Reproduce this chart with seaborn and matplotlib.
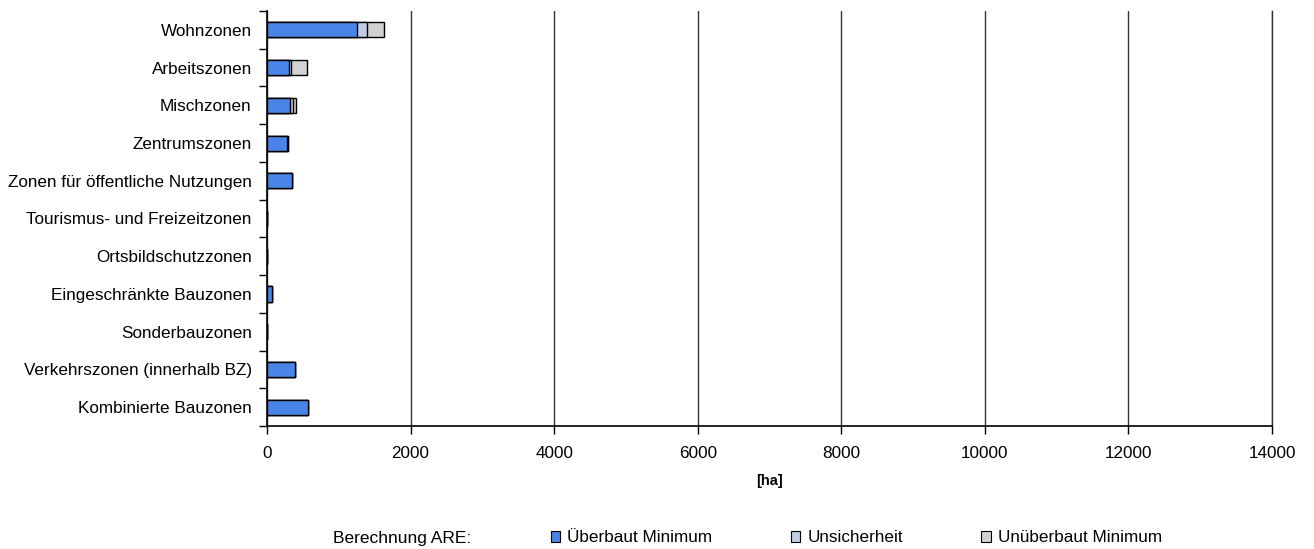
import matplotlib
matplotlib.use("Agg")
import matplotlib.pyplot as plt
import seaborn as sns
import pandas as pd
from matplotlib.patches import Patch

# Data (ha)
zonen = ["Wohnzonen", "Arbeitszonen", "Mischzonen", "Zentrumszonen",
         "Zonen für öffentliche Nutzungen", "Tourismus- und Freizeitzonen",
         "Ortsbildschutzzonen", "Eingeschränkte Bauzonen", "Sonderbauzonen",
         "Verkehrszonen (innerhalb BZ)", "Kombinierte Bauzonen"]
ueberbaut_min = [1255, 302, 316, 279, 353, 0, 0, 70, 0, 386, 576]
unsicherheit = [135, 34, 42, 12, 0, 0, 0, 0, 0, 0, 0]
unueberbaut_min = [237, 225, 42, 0, 0, 0, 0, 0, 0, 0, 0]

legend_title = "Berechnung ARE:"
series_names = ["Überbaut Minimum", "Unsicherheit", "Unüberbaut Minimum"]
colors = ["#4a84e6", "#c3cde0", "#d2d2d2"]

df = pd.DataFrame({"zone": zonen, "ueb": ueberbaut_min,
                   "uns": unsicherheit, "unueb": unueberbaut_min})
df["cum1"] = df["ueb"]
df["cum2"] = df["ueb"] + df["uns"]
df["cum3"] = df["cum2"] + df["unueb"]

sns.set_style("white")
plt.rcParams["font.family"] = ["Liberation Sans", "DejaVu Sans"]
plt.rcParams["text.color"] = "black"
plt.rcParams["xtick.color"] = "black"
plt.rcParams["ytick.color"] = "black"
plt.rcParams["axes.labelcolor"] = "black"

fs = 12.3

fig = plt.figure(figsize=(13.14, 5.49), dpi=100)
ax = fig.add_axes([267 / 1314, 1 - 426 / 549, (1272 - 267) / 1314, (426 - 11) / 549])

# stacked bars: draw cumulative totals, largest first
for col, c in zip(["cum3", "cum2", "cum1"], colors[::-1]):
    sns.barplot(data=df, x=col, y="zone", order=zonen, orient="h", color=c,
                width=0.4, edgecolor="black", linewidth=1.0, saturation=1,
                ax=ax, zorder=3)

ax.set_xlim(0, 14000)
ax.set_xticks(range(0, 14001, 2000))
ax.set_ylim(len(zonen) - 0.5, -0.5)
ax.set_yticks([i - 0.5 for i in range(len(zonen) + 1)], minor=True)
ax.tick_params(axis="y", which="major", length=0, pad=11, labelsize=fs)
ax.tick_params(axis="y", which="minor", length=6, width=1, direction="out", left=True)
ax.tick_params(axis="x", which="major", length=6, width=1, direction="out", bottom=True,
               pad=8.5, labelsize=fs)
ax.set_ylabel("")
ax.set_xlabel("[ha]", fontsize=10.5, fontweight="bold", labelpad=9)

ax.grid(axis="x", color="#333333", linewidth=1.0)
ax.grid(axis="y", visible=False)
ax.set_axisbelow(True)
ax.spines["top"].set_visible(False)
ax.spines["right"].set_color("#333333")
ax.spines["right"].set_linewidth(1.0)
for s in ["left", "bottom"]:
    ax.spines[s].set_color("black")
    ax.spines[s].set_linewidth(1.2)

# legend
fig.text(333 / 1314, 1 - 538 / 549, legend_title, fontsize=12.5, va="center", ha="left")
handles = [Patch(facecolor=c, edgecolor="black", linewidth=0.8, label=n)
           for c, n in zip(colors, series_names)]
fig.legend(handles=handles, ncol=3, loc="center left", frameon=False,
           bbox_to_anchor=(551 / 1314, 1 - 538 / 549), fontsize=12.3,
           handlelength=0.55, handleheight=0.55, handletextpad=0.4,
           columnspacing=4.6, borderaxespad=0, borderpad=0)

fig.savefig("out.png", dpi=100)
